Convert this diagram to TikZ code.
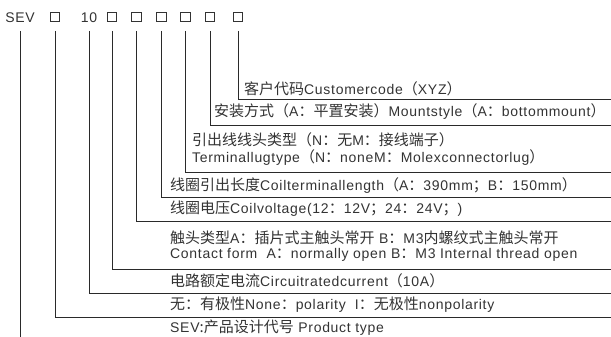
\documentclass[tikz,border=0pt]{standalone}
\usepackage{fontspec}
\setmainfont{Liberation Sans}[LetterSpace=5]
\newfontfamily\cjk{Noto Sans CJK SC}
\newcommand{\zh}[1]{{\cjk\fontsize{15}{17}\selectfont #1}}
\definecolor{ink}{HTML}{333333}
\definecolor{rule}{HTML}{2A2A2A}
\begin{document}
\begin{tikzpicture}[x=1pt,y=-1pt,
  lbl/.style={inner sep=0pt, text=ink, font=\fontsize{14}{16}\selectfont, anchor=base west},
  head/.style={inner sep=0pt, text=ink, font=\fontsize{14}{16}\selectfont},
  sq/.style={draw=ink, line width=0.9pt, minimum size=9.5pt, inner sep=0pt},
  wire/.style={draw=rule, line width=0.9pt}]
\useasboundingbox (0,0) rectangle (611,337);
% top row
\node[head] (sev) at (20,18) {SEV};
\node[sq] (q1) at (55,17) {};
\node[head] (ten) at (89,18) {10};
\node[sq] (q2) at (112,17) {};
\node[sq] (q3) at (136.5,17) {};
\node[sq] (q4) at (161.5,17) {};
\node[sq] (q5) at (185.5,17) {};
\node[sq] (q6) at (210,17) {};
\node[sq] (q7) at (238,17) {};
\coordinate (top) at (0,31);
\coordinate (bot) at (0,337);
% right ends of the rules
\coordinate (e7) at (611,99);
\coordinate (e6) at (611,125);
\coordinate (e5) at (611,172);
\coordinate (e4) at (611,197);
\coordinate (e3) at (611,221);
\coordinate (e2) at (611,269);
\coordinate (e10) at (611,293);
\coordinate (e1) at (611,317);
% texts
\node[lbl] (tcust) at (244,95) {\zh{客户代码}Customercode\zh{（}XYZ\zh{）}};
\node[lbl] (tmount) at (214,117) {\zh{安装方式（}A\zh{：平置安装）}Mountstyle\zh{（}A\zh{：}bottommount\zh{）}};
\node[lbl] (tterma) at (192,145) {\zh{引出线线头类型（}N\zh{：无}M\zh{：接线端子）}};
\node[lbl] (ttermb) at (192,162) {Terminallugtype\zh{（}N\zh{：}noneM\zh{：}Molexconnectorlug\zh{）}};
\node[lbl] (tlen) at (170,190) {\zh{线圈引出长度}Coilterminallength\zh{（}A\zh{：}390mm\zh{；}B\zh{：}150mm\zh{）}};
\node[lbl] (tvolt) at (170,213) {\zh{线圈电压}Coilvoltage(12\zh{：}12V\zh{；}24\zh{：}24V\zh{；})};
\node[lbl] (tconta) at (170,243) {\zh{触头类型}A\zh{：插片式主触头常开} B\zh{：}M3\zh{内螺纹式主触头常开}};
\node[lbl] (tcontb) at (170,258) {Contact form\ \ A\zh{：}normally open B\zh{：}M3 Internal thread open};
\node[lbl] (tcirc) at (170,286) {\zh{电路额定电流}Circuitratedcurrent\zh{（}10A\zh{）}};
\node[lbl] (tpol) at (170,309) {\zh{无：有极性}None\zh{：}polarity\ \ I\zh{：无极性}nonpolarity};
\node[lbl] (tsev) at (170,332) {SEV\zh{:产品设计代号} Product type};
% connectors
\draw[wire] (sev.south |- top) -- (sev.south |- bot);
\draw[wire] (q1.south |- top) |- (e1);
\draw[wire] (ten.south |- top) |- (e10);
\draw[wire] (q2.south |- top) |- (e2);
\draw[wire] (q3.south |- top) |- (e3);
\draw[wire] (q4.south |- top) |- (e4);
\draw[wire] (q5.south |- top) |- (e5);
\draw[wire] (q6.south |- top) |- (e6);
\draw[wire] (q7.south |- top) |- (e7);
\end{tikzpicture}
\end{document}
